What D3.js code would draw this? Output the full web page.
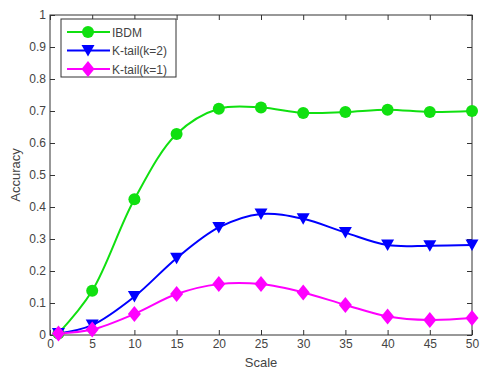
<!DOCTYPE html>
<html><head><meta charset="utf-8">
<script src="https://cdn.jsdelivr.net/npm/d3@7"></script>
<style>body{margin:0;background:#fff}text{font-family:Arial,"Liberation Sans",sans-serif}</style>
</head><body><svg id="c" width="480" height="374"></svg>
<script>
const scales = [1,5,10,15,20,25,30,35,40,45,50];
const ibdm = [0.005,0.138,0.424,0.628,0.707,0.711,0.694,0.697,0.704,0.697,0.700];
const ktail2 = [0.005,0.031,0.120,0.240,0.336,0.378,0.363,0.320,0.281,0.279,0.281];
const ktail1 = [0.005,0.017,0.066,0.128,0.159,0.159,0.133,0.094,0.058,0.047,0.053];
const seriesNames = ["IBDM","K-tail(k=2)","K-tail(k=1)"];
const seriesColors = ["#10e010","#0000ff","#ff00ff"];
const xTicks = [0,5,10,15,20,25,30,35,40,45,50];
const yTicks = [0,0.1,0.2,0.3,0.4,0.5,0.6,0.7,0.8,0.9,1];

const svg = d3.select("#c");
const L=50,R=472,T=15,B=335;
const x = d3.scaleLinear().domain([0,50]).range([L,R]);
const y = d3.scaleLinear().domain([0,1]).range([B,T]);
const axisColor="#333", labelColor="#444";

svg.append("rect").attr("x",L).attr("y",T).attr("width",R-L).attr("height",B-T).attr("fill","#fff");

function styleAxis(g){g.select(".domain").remove();g.selectAll("line").attr("stroke",axisColor);g.selectAll("text").attr("fill",labelColor).attr("font-size",12);}
svg.append("g").attr("transform",`translate(0,${B})`).call(d3.axisBottom(x).tickValues(xTicks).tickSize(-5).tickPadding(4).tickFormat(d3.format("d"))).call(styleAxis);
svg.append("g").attr("transform",`translate(0,${T})`).call(d3.axisTop(x).tickValues(xTicks).tickSize(-5).tickFormat("")).call(styleAxis);
svg.append("g").attr("transform",`translate(${L},0)`).call(d3.axisLeft(y).tickValues(yTicks).tickSize(-5).tickPadding(4).tickFormat(d=>d===0||d===1?d3.format("d")(d):d3.format(".1f")(d))).call(styleAxis);
svg.append("g").attr("transform",`translate(${R},0)`).call(d3.axisRight(y).tickValues(yTicks).tickSize(-5).tickFormat("")).call(styleAxis);
svg.append("rect").attr("x",L).attr("y",T).attr("width",R-L).attr("height",B-T).attr("fill","none").attr("stroke",axisColor).attr("stroke-width",1);

svg.append("text").attr("x",(L+R)/2).attr("y",367).attr("text-anchor","middle").attr("font-size",13).attr("fill",labelColor).text("Scale");
svg.append("text").attr("transform",`translate(20,${(T+B)/2}) rotate(-90)`).attr("text-anchor","middle").attr("font-size",13).attr("fill",labelColor).text("Accuracy");

const sym = [d3.symbolCircle, d3.symbolTriangle, d3.symbolDiamond];
function marker(g,i,cx,cy){
  const c=seriesColors[i];
  if(i===0) g.append("circle").attr("cx",cx).attr("cy",cy).attr("r",6).attr("fill",c);
  else if(i===1) g.append("path").attr("d",`M${cx-6.5},${cy-5.5}L${cx+6.5},${cy-5.5}L${cx},${cy+6}Z`).attr("fill",c);
  else g.append("path").attr("d",`M${cx},${cy-8}L${cx+6.5},${cy}L${cx},${cy+8}L${cx-6.5},${cy}Z`).attr("fill",c);
}
const data=[ibdm,ktail2,ktail1];
const line = d3.line().x((d,i)=>x(scales[i])).y(d=>y(d)).curve(d3.curveCatmullRom.alpha(0.5));
const plot = svg.append("g");
data.forEach((vals,i)=>{
  plot.append("path").attr("d",line(vals)).attr("fill","none").attr("stroke",seriesColors[i]).attr("stroke-width",2);
});
data.forEach((vals,i)=>{
  const g=plot.append("g");
  vals.forEach((v,j)=>marker(g,i,x(scales[j]),y(v)));
});

// legend
const lg = svg.append("g");
lg.append("rect").attr("x",61).attr("y",19).attr("width",115).attr("height",58).attr("fill","#fff").attr("stroke",axisColor);
seriesNames.forEach((n,i)=>{
  const yy=32+i*18.5;
  lg.append("line").attr("x1",67).attr("x2",110).attr("y1",yy).attr("y2",yy).attr("stroke",seriesColors[i]).attr("stroke-width",2);
  marker(lg,i,88,yy);
  lg.append("text").attr("x",112).attr("y",yy+4.5).attr("font-size",12).attr("fill",labelColor).text(n);
});
</script></body></html>
